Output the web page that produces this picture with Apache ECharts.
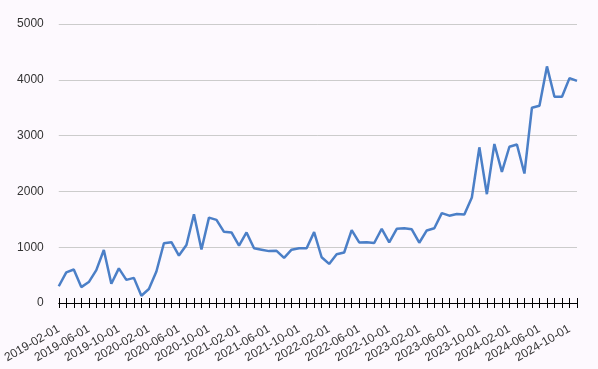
<!DOCTYPE html>
<html>
<head>
<meta charset="utf-8">
<script src="https://cdn.jsdelivr.net/npm/echarts@6/dist/echarts.min.js"></script>
<style>
html,body{margin:0;padding:0;background:#fdf9fe;}
#chart{width:598px;height:369px;}
</style>
</head>
<body>
<div id="chart"></div>
<script>
// Monthly categories 2019-02-01 .. 2024-11-01
const startYear = 2019, startMonth = 2, monthCount = 70;
const categories = [];
for (let i = 0; i < monthCount; i++) {
  const m = (startMonth - 1 + i) % 12 + 1;
  const y = startYear + Math.floor((startMonth - 1 + i) / 12);
  categories.push(y + '-' + String(m).padStart(2, '0') + '-01');
}
const values = [
  300, 550, 600, 285, 375, 590, 950, 345, 620, 415,
  450, 130, 250, 565, 1070, 1090, 850, 1040, 1590, 960,
  1530, 1490, 1275, 1265, 1030, 1265, 980, 955, 930, 935,
  810, 955, 980, 980, 1270, 820, 700, 875, 905, 1305,
  1085, 1090, 1075, 1330, 1085, 1330, 1340, 1320, 1080, 1300,
  1340, 1610, 1565, 1595, 1585, 1890, 2790, 1950, 2850, 2350,
  2800, 2840, 2320, 3500, 3535, 4240, 3695, 3695, 4030, 3980
];
const yTicks = [0, 1000, 2000, 3000, 4000, 5000];

const chart = echarts.init(document.getElementById('chart'));
const font = 'Liberation Sans, Arial, sans-serif';
chart.setOption({
  backgroundColor: '#fdf9fe',
  animation: false,
  grid: { left: 53, right: 21, top: 24, bottom: 66 },
  xAxis: [{
    type: 'category',
    data: categories,
    boundaryGap: false,
    axisLine: { show: true, onZero: false, lineStyle: { color: '#000', width: 1 } },
    axisTick: { show: false },
    axisLabel: { interval: 3, rotate: 30, color: '#333', fontSize: 12, fontFamily: font, margin: 25 },
    splitLine: { show: false }
  }, {
    type: 'category',
    data: categories,
    position: 'bottom',
    offset: -5,
    boundaryGap: false,
    axisLine: { show: false, onZero: false },
    axisTick: { show: true, interval: 0, length: 10, inside: false, lineStyle: { color: '#000' } },
    axisLabel: { show: false },
    splitLine: { show: false }
  }],
  yAxis: {
    type: 'value',
    min: yTicks[0],
    max: yTicks[yTicks.length - 1],
    interval: 1000,
    axisLine: { show: false },
    axisTick: { show: false },
    axisLabel: { color: '#333', fontSize: 12, fontFamily: font, margin: 15, formatter: function (v) { return String(v); } },
    splitLine: { lineStyle: { color: '#cccccc', width: 1 } }
  },
  series: [{
    type: 'line',
    data: values,
    xAxisIndex: 0,
    symbol: 'none',
    lineStyle: { color: '#4b7fc7', width: 2.5 },
    itemStyle: { color: '#4b7fc7' }
  }]
});
</script>
</body>
</html>
